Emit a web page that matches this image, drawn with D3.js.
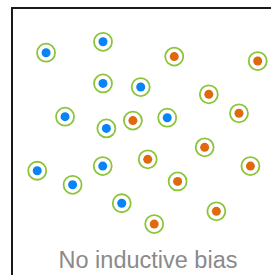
<!DOCTYPE html>
<html>
<head>
<meta charset="utf-8">
<script src="https://cdn.jsdelivr.net/npm/d3@7.9.0/dist/d3.min.js"></script>
<style>
  html, body { margin: 0; padding: 0; background: #fff; }
  svg { display: block; }
</style>
</head>
<body>
<svg width="271" height="275"></svg>
<script>
// class A (blue) points
const blueX = [1.31, 3.50, 3.50, 4.95, 2.04, 5.97, 3.63, 0.97, 3.49, 2.33, 4.22];
const blueY = [8.28, 8.70, 7.10, 6.96, 5.82, 5.78, 5.37, 3.74, 3.92, 3.20, 2.49];
// class B (orange) points
const orangeX = [6.24, 9.45, 7.57, 8.73, 4.65, 7.41, 5.22, 9.17, 6.37, 7.86, 5.47];
const orangeY = [8.13, 7.96, 6.68, 5.95, 5.67, 4.64, 4.18, 3.92, 3.33, 2.18, 1.69];
const caption = 'No inductive bias';

const svg = d3.select('svg');

// scales: feature space -> pixels
const x = d3.scaleLinear().domain([0, 10]).range([12, 272]);
const y = d3.scaleLinear().domain([0, 10]).range([268, 8]);

// frame (runs off the right and bottom edges)
svg.append('rect')
  .attr('x', 12).attr('y', 8)
  .attr('width', 320).attr('height', 320)
  .attr('fill', 'none')
  .attr('stroke', '#1a1a1a')
  .attr('stroke-width', 2);

const points = [
  ...blueX.map((v, i) => ({ x: v, y: blueY[i], c: '#0a84f5' })),
  ...orangeX.map((v, i) => ({ x: v, y: orangeY[i], c: '#e0680f' }))
];

// green ring around every point
svg.selectAll('circle.ring')
  .data(points)
  .join('circle')
  .attr('class', 'ring')
  .attr('cx', d => x(d.x))
  .attr('cy', d => y(d.y))
  .attr('r', 9)
  .attr('fill', 'none')
  .attr('stroke', '#8cc43a')
  .attr('stroke-width', 1.8);

// the points themselves
svg.selectAll('circle.dot')
  .data(points)
  .join('circle')
  .attr('class', 'dot')
  .attr('cx', d => x(d.x))
  .attr('cy', d => y(d.y))
  .attr('r', 4.5)
  .attr('fill', d => d.c);

svg.append('text')
  .attr('x', 148)
  .attr('y', 268)
  .attr('text-anchor', 'middle')
  .attr('font-family', 'Liberation Sans, Arial, sans-serif')
  .attr('font-size', 23.5)
  .attr('fill', '#8a8a8a')
  .text(caption);
</script>
</body>
</html>
